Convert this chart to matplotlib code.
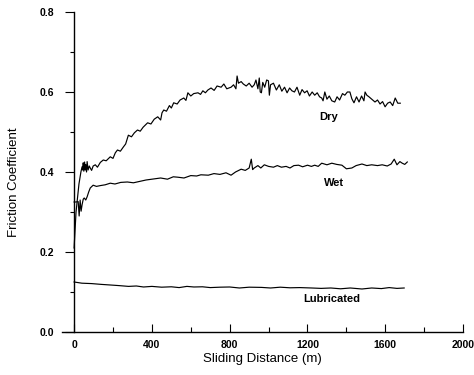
import matplotlib
matplotlib.use("Agg")
import matplotlib.pyplot as plt
from matplotlib.ticker import MultipleLocator

plt.rcParams['font.family'] = ['Liberation Sans', 'DejaVu Sans']

# Dry
dry_x = [0, 10, 25, 35, 41, 44, 47, 50, 54, 57, 60, 64, 67, 72, 78, 83, 90, 98, 109, 120, 135, 150,
         165, 186, 200, 212, 223, 238, 254, 265, 279, 295, 310, 326, 340, 355, 378, 395, 412, 430,
         445, 452, 461, 475, 490, 500, 512, 530, 545, 564, 575, 585, 600, 615, 637, 650, 662, 675,
         688, 704, 720, 735, 756, 770, 785, 807, 820, 832, 838, 845, 859, 870, 885, 900, 915, 926,
         935, 945, 952, 957, 963, 970, 980, 990, 999, 1004, 1010, 1025, 1040, 1055, 1068, 1082, 1095,
         1108, 1120, 1133, 1146, 1160, 1172, 1185, 1198, 1210, 1224, 1237, 1250, 1262, 1273, 1280,
         1289, 1300, 1312, 1325, 1340, 1352, 1365, 1380, 1392, 1405, 1418, 1428, 1439, 1452, 1465,
         1478, 1490, 1496, 1505, 1516, 1530, 1547, 1560, 1573, 1586, 1599, 1612, 1625, 1638, 1651,
         1664, 1677]
dry_y = [0.21, 0.30, 0.37, 0.40, 0.413, 0.405, 0.423, 0.402, 0.425, 0.405, 0.418, 0.400, 0.426,
         0.405, 0.415, 0.410, 0.404, 0.415, 0.418, 0.412, 0.424, 0.430, 0.428, 0.438, 0.434, 0.448,
         0.455, 0.452, 0.463, 0.470, 0.492, 0.488, 0.498, 0.505, 0.502, 0.512, 0.523, 0.520, 0.532,
         0.538, 0.530, 0.548, 0.555, 0.552, 0.566, 0.560, 0.573, 0.570, 0.580, 0.585, 0.579, 0.598,
         0.590, 0.596, 0.598, 0.594, 0.603, 0.598, 0.605, 0.610, 0.604, 0.615, 0.612, 0.620, 0.608,
         0.612, 0.618, 0.608, 0.640, 0.622, 0.626, 0.620, 0.615, 0.622, 0.612, 0.618, 0.630, 0.608,
         0.635, 0.600, 0.598, 0.624, 0.612, 0.630, 0.628, 0.592, 0.618, 0.622, 0.605, 0.618, 0.602,
         0.612, 0.598, 0.610, 0.603, 0.600, 0.612, 0.592, 0.606, 0.598, 0.603, 0.590, 0.600, 0.592,
         0.598, 0.588, 0.585, 0.578, 0.600, 0.582, 0.590, 0.578, 0.575, 0.588, 0.580, 0.596, 0.592,
         0.600, 0.600, 0.583, 0.573, 0.588, 0.575, 0.590, 0.578, 0.600, 0.592, 0.588, 0.582, 0.575,
         0.580, 0.570, 0.576, 0.563, 0.572, 0.575, 0.566, 0.585, 0.572, 0.572]

# Wet
wet_x = [0, 10, 21, 26, 31, 36, 41, 47, 52, 60, 67, 75, 83, 98, 115, 135, 160, 186, 210, 240, 274,
         305, 342, 370, 400, 445, 480, 510, 533, 565, 600, 630, 652, 690, 719, 750, 781, 807, 830,
         859, 880, 900, 911, 918, 926, 945, 960, 978, 1000, 1025, 1045, 1066, 1090, 1110, 1130,
         1154, 1175, 1200, 1220, 1237, 1255, 1273, 1300, 1325, 1350, 1377, 1400, 1428, 1450, 1480,
         1505, 1530, 1560, 1584, 1610, 1630, 1646, 1660, 1675, 1687, 1700, 1713]
wet_y = [0.325, 0.325, 0.326, 0.29, 0.330, 0.302, 0.318, 0.332, 0.335, 0.330, 0.338, 0.350, 0.360,
         0.367, 0.364, 0.366, 0.368, 0.372, 0.370, 0.374, 0.375, 0.373, 0.377, 0.380, 0.382, 0.385,
         0.382, 0.388, 0.387, 0.385, 0.391, 0.390, 0.393, 0.392, 0.396, 0.394, 0.398, 0.392, 0.400,
         0.407, 0.404, 0.410, 0.432, 0.406, 0.410, 0.416, 0.410, 0.418, 0.414, 0.412, 0.416, 0.412,
         0.414, 0.410, 0.416, 0.417, 0.413, 0.417, 0.414, 0.417, 0.414, 0.422, 0.418, 0.422, 0.419,
         0.417, 0.408, 0.410, 0.416, 0.420, 0.416, 0.418, 0.416, 0.418, 0.415, 0.420, 0.432, 0.418,
         0.426, 0.422, 0.419, 0.425]

# Lubricated
lub_x = [0, 40, 90, 140, 186, 230, 280, 320, 357, 400, 450, 500, 540, 580, 616, 660, 700, 750,
         800, 850, 900, 963, 1010, 1060, 1110, 1160, 1221, 1270, 1320, 1370, 1420, 1480, 1530,
         1580, 1620, 1660, 1697]
lub_y = [0.125, 0.122, 0.121, 0.119, 0.1175, 0.116, 0.114, 0.115, 0.1125, 0.114, 0.112, 0.113,
         0.111, 0.114, 0.1125, 0.113, 0.111, 0.112, 0.1125, 0.110, 0.112, 0.1115, 0.110, 0.112,
         0.1105, 0.111, 0.110, 0.109, 0.110, 0.108, 0.110, 0.1075, 0.110, 0.1085, 0.111, 0.109,
         0.110]

x_ticks = [0, 400, 800, 1200, 1600, 2000]
y_ticks = [0.0, 0.2, 0.4, 0.6, 0.8]

fig = plt.figure(figsize=(4.74, 3.75), dpi=100)
ax = fig.add_axes([0.1317, 0.1147, 0.8453, 0.8533])

for xs, ys in [(dry_x, dry_y), (wet_x, wet_y), (lub_x, lub_y)]:
    ax.plot(xs, ys, color='black', lw=0.85)

ax.set_xlim(-60, 2000)
ax.set_ylim(0, 0.8)
ax.spines['left'].set_position(('data', 0))
ax.spines['top'].set_visible(False)
ax.spines['right'].set_visible(False)
for s in ['left', 'bottom']:
    ax.spines[s].set_linewidth(1.0)

ax.set_xticks(x_ticks)
ax.set_xticklabels([str(v) for v in x_ticks], fontweight='bold')
ax.set_yticks(y_ticks)
ax.set_yticklabels([f"{v:.1f}" for v in y_ticks], fontweight='bold')
ax.xaxis.set_minor_locator(MultipleLocator(200))
ax.yaxis.set_minor_locator(MultipleLocator(0.1))
ax.tick_params(axis='x', which='major', direction='in', length=6, width=0.8, labelsize=7.5, pad=6)
ax.tick_params(axis='x', which='minor', direction='in', length=3.5, width=0.8)
ax.tick_params(axis='y', which='major', direction='out', length=6.5, width=0.8, labelsize=7.5, pad=8)
ax.tick_params(axis='y', which='minor', direction='out', length=3, width=0.8)

ax.set_xlabel('Sliding Distance (m)', fontsize=9.5)
ax.xaxis.set_label_coords(0.5, -0.066)
ax.set_ylabel('Friction Coefficient', fontsize=9.5)
ax.yaxis.set_label_coords(-0.106, 0.469)

ax.text(1309, 0.5375, 'Dry', fontsize=8, fontweight='bold', ha='center', va='center')
ax.text(1335, 0.3725, 'Wet', fontsize=8, fontweight='bold', ha='center', va='center')
ax.text(1325, 0.0825, 'Lubricated', fontsize=8, fontweight='bold', ha='center', va='center')

fig.savefig('out.png', dpi=100)
